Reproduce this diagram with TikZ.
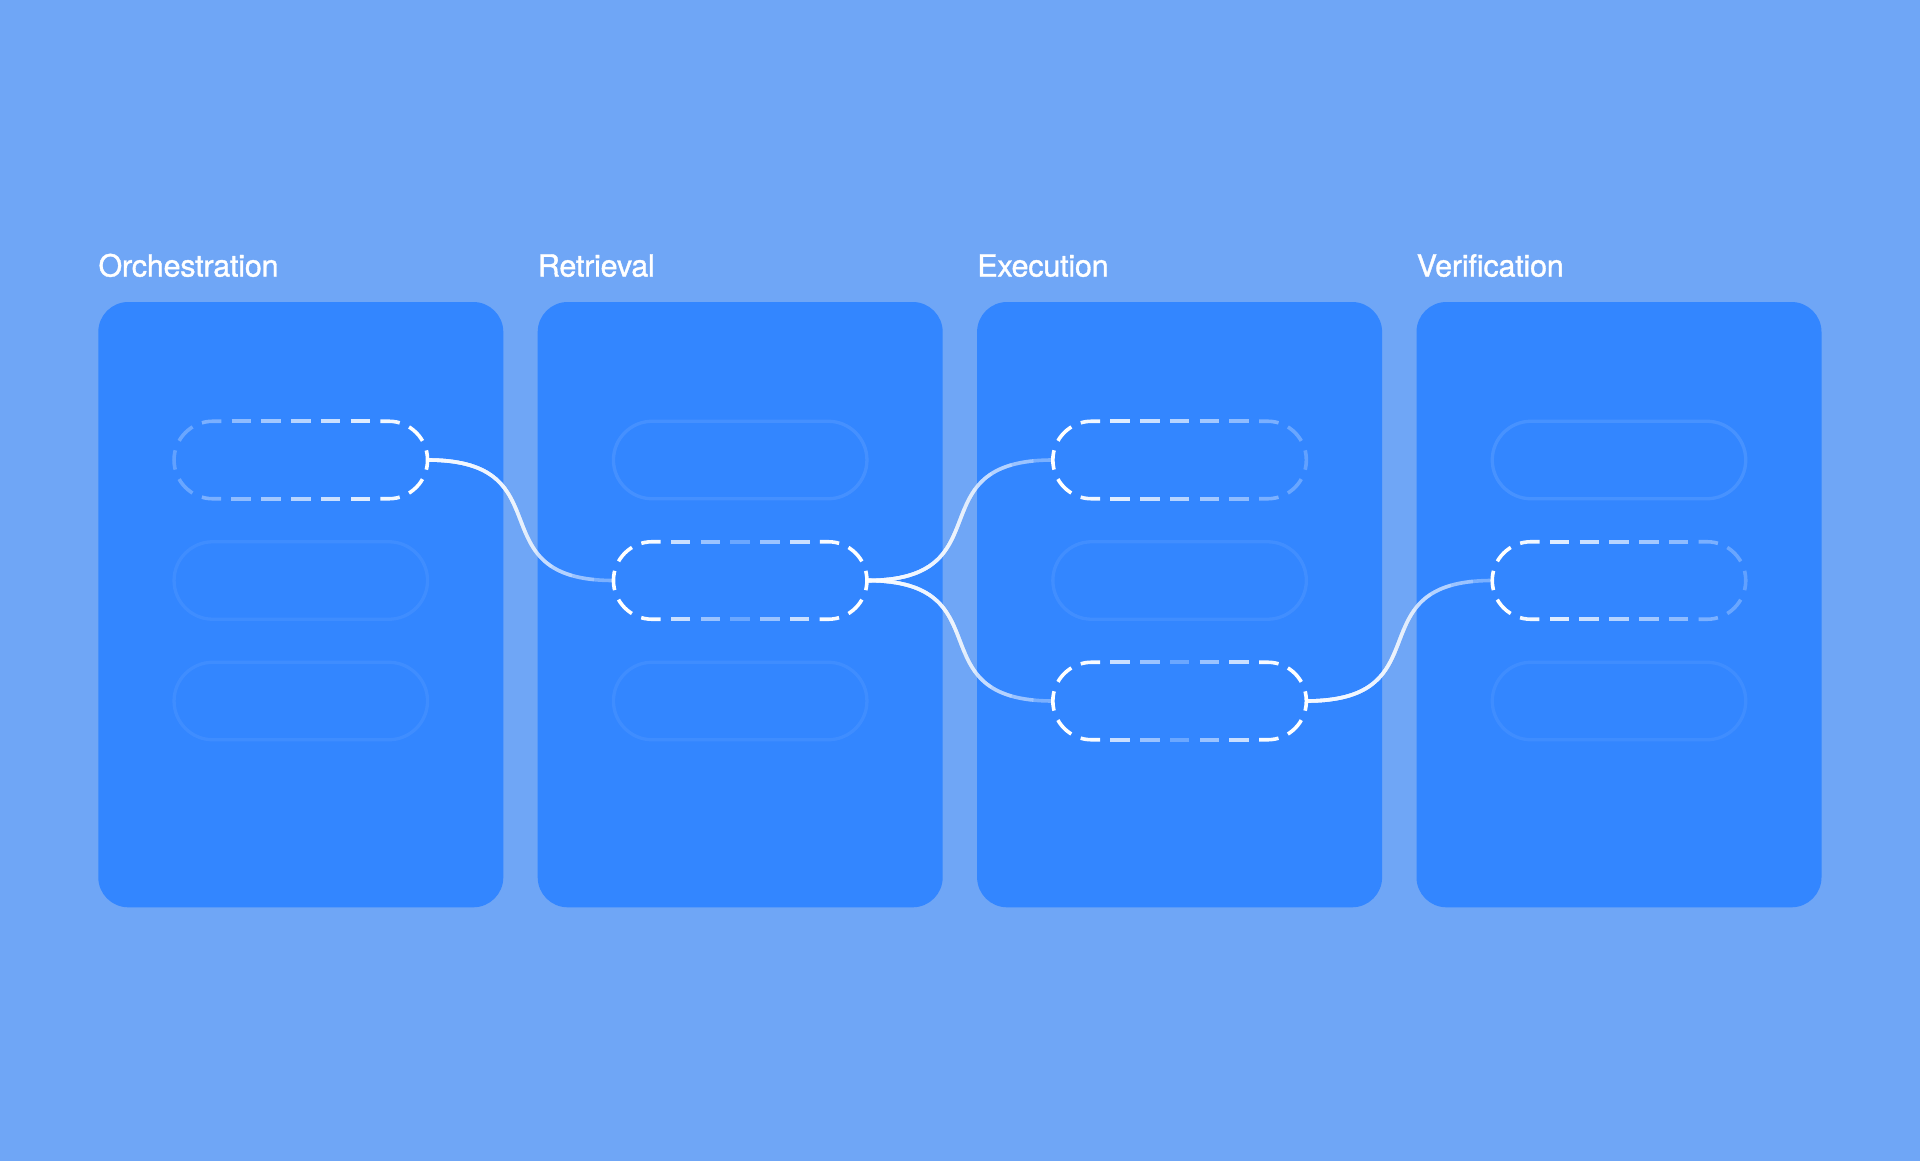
\documentclass[tikz,border=0pt]{standalone}
\usepackage{fontspec}
\setmainfont{TeX Gyre Heros}
\newfontfamily\titlefont{TeX Gyre Heros}[FakeBold=1.2, LetterSpace=-0.7]
\definecolor{bgblue}{RGB}{111,166,246}
\definecolor{panelblue}{RGB}{51,134,255}
\tikzset{
  panelbox/.style={rectangle, rounded corners=30pt, fill=panelblue, inner sep=0pt, minimum width=405pt, minimum height=605.3pt},
  title/.style={anchor=base west, inner sep=0pt, text=white, font=\titlefont\fontsize{30.5}{36}\selectfont},
  fpill/.style={draw=white, line width=3.3pt},
  dpill/.style={draw=white, line width=3.6pt, dash pattern=on 19.5pt off 3000pt},
  connector/.style={draw=white, line width=3.6pt},
}
\newcommand\faintpill[3]{%
  \draw[fpill, draw opacity=#3] ({#1-88},{#2-38.75}) -- ({#1+88},{#2-38.75})
    arc[start angle=-90,end angle=90,radius=38.75] -- ({#1-88},{#2+38.75})
    arc[start angle=90,end angle=270,radius=38.75] -- cycle;}
\newcommand\dashpill[3]{%
  \foreach \k/\X in {0/0,1/0.235,2/0.470,3/0.705,4/0.914,5/1,6/0.914,7/0.705,8/0.470,9/0.235,10/0,11/-0.235,12/-0.470,13/-0.705,14/-0.914,15/-1,16/-0.914,17/-0.705,18/-0.470,19/-0.235}{%
    \pgfmathsetmacro\op{min(1,max(0.2,#3))}%
    \pgfmathsetmacro\ph{3014.363-29.7735*\k}%
    \draw[dpill, draw opacity=\op, dash phase=\ph pt] ({#1-14.885},{#2-38.75}) -- ({#1+88},{#2-38.75})
      arc[start angle=-90,end angle=90,radius=38.75] -- ({#1-88},{#2+38.75})
      arc[start angle=90,end angle=270,radius=38.75] -- cycle;
  }}
\newcommand\connect[2]{%
  \draw[connector, draw opacity=0.35] (#1) .. controls +(139.4,0) and +(-139.4,0) .. (#2);
  \foreach \i in {1,...,10}{%
    \pgfmathsetmacro\len{245*\i/11}%
    \draw[connector, draw opacity=0.25, dash pattern=on \len pt off 3000pt] (#1) .. controls +(139.4,0) and +(-139.4,0) .. (#2);
  }}
\begin{document}
\begin{tikzpicture}[x=1pt,y=-1pt]
\fill[bgblue] (0,0) rectangle (1920,1161);
\useasboundingbox (0,0) rectangle (1920,1161);
% panels
\node[panelbox] (p1) at (300.8,604.65) {};
\node[panelbox] (p2) at (740.2,604.65) {};
\node[panelbox] (p3) at (1179.6,604.65) {};
\node[panelbox] (p4) at (1619.0,604.65) {};
% titles
\node[title] (t1) at (98.3,276.5) {Orchestration};
\node[title] (t2) at (537.7,276.5) {Retrieval};
\node[title] (t3) at (977.1,276.5) {Execution};
\node[title] (t4) at (1416.5,276.5) {Verification};
% faint pills
\faintpill{300.8}{580.5}{0.06}
\faintpill{300.8}{701}{0.06}
\faintpill{740.2}{460}{0.09}
\faintpill{740.2}{701}{0.06}
\faintpill{1179.6}{580.5}{0.07}
\faintpill{1619.0}{460}{0.1}
\faintpill{1619.0}{701}{0.06}
% connector end points
\coordinate (o1R) at (427.55,460);
\coordinate (r2L) at (613.45,580.5);
\coordinate (r2R) at (866.95,580.5);
\coordinate (e1L) at (1052.85,460);
\coordinate (e3L) at (1052.85,701);
\coordinate (e3R) at (1306.35,701);
\coordinate (v2L) at (1492.25,580.5);
% connectors
\connect{o1R}{r2L}
\connect{r2R}{e1L}
\connect{r2R}{e3L}
\connect{e3R}{v2L}
% dashed pills
\dashpill{300.8}{460}{0.65+0.42*(\X)}
\dashpill{740.2}{580.5}{0.28+0.98*abs(\X)}
\dashpill{1179.6}{460}{0.65-0.42*(\X)}
\dashpill{1179.6}{701}{0.28+0.98*abs(\X)}
\dashpill{1619.0}{580.5}{0.65-0.42*(\X)}
\end{tikzpicture}
\end{document}
